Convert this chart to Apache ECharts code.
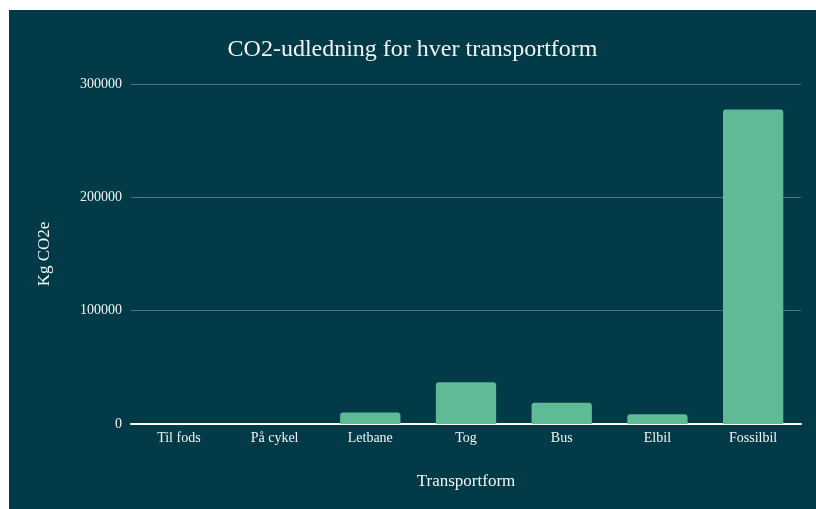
<!DOCTYPE html>
<html>
<head>
<meta charset="utf-8">
<script src="https://cdn.jsdelivr.net/npm/echarts@6/dist/echarts.min.js"></script>
<style>
  html, body { margin: 0; padding: 0; background: #ffffff; }
  #chart { position: absolute; left: 9px; top: 10px; width: 807px; height: 499px; }
</style>
</head>
<body>
<div id="chart"></div>
<script>
// Transport modes and their CO2 emissions (kg CO2e)
const categories = ['Til fods', 'På cykel', 'Letbane', 'Tog', 'Bus', 'Elbil', 'Fossilbil'];
const emissions = [0, 0, 10200, 36800, 18800, 8500, 277500];
const yTicks = [0, 100000, 200000, 300000];

const FONT = '"Liberation Serif", "DejaVu Serif", serif';
const TEXT = '#f2f4f4';

const chart = echarts.init(document.getElementById('chart'));
chart.setOption({
  backgroundColor: '#023b47',
  animation: false,
  title: {
    text: 'CO2-udledning for hver transportform',
    left: 'center',
    top: 23,
    textStyle: { color: TEXT, fontFamily: FONT, fontSize: 24, fontWeight: 'normal' }
  },
  grid: { left: 122, right: 15, top: 74, bottom: 85 },
  xAxis: {
    type: 'category',
    data: categories,
    name: 'Transportform',
    nameLocation: 'middle',
    nameGap: 49,
    nameTextStyle: { color: TEXT, fontFamily: FONT, fontSize: 17 },
    axisLine: { lineStyle: { color: '#ffffff', width: 2 } },
    axisTick: { show: false },
    axisLabel: { color: TEXT, fontFamily: FONT, fontSize: 14, margin: 7 }
  },
  yAxis: {
    type: 'value',
    min: yTicks[0],
    max: yTicks[yTicks.length - 1],
    interval: yTicks[1] - yTicks[0],
    name: 'Kg CO2e',
    nameLocation: 'middle',
    nameGap: 78,
    nameTextStyle: { color: TEXT, fontFamily: FONT, fontSize: 17 },
    axisLine: { show: false },
    axisTick: { show: false },
    axisLabel: { color: TEXT, fontFamily: FONT, fontSize: 14, margin: 9, formatter: v => String(v) },
    splitLine: { lineStyle: { color: 'rgba(255,255,255,0.3)', width: 1 } }
  },
  series: [{
    type: 'bar',
    data: emissions,
    barCategoryGap: '37%',
    itemStyle: { color: '#5fbb96', borderRadius: [3, 3, 0, 0] }
  }]
});
</script>
</body>
</html>
